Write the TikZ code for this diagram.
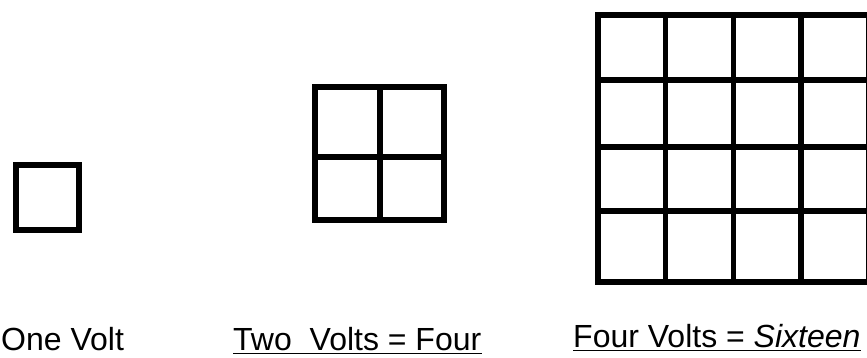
\documentclass[tikz,border=0pt]{standalone}
\usepackage{fontspec}
\setmainfont{Liberation Sans}
\tikzset{sq/.style={line width=5.5pt, line cap=rect},
  lbl/.style={inner sep=0pt, anchor=base west, font=\fontsize{32}{38}\selectfont},
  uline/.style={line width=1.8pt}}

\begin{document}
\begin{tikzpicture}[x=1pt,y=-1pt]
\useasboundingbox (0,0) rectangle (867,358);
\clip (0,0) rectangle (867,358);
% one volt
\draw[sq] (16,165) rectangle (79,230);
% two volts
\draw[sq] (315,87) rectangle (444,220) (380,87)--(380,220) (315,157)--(444,157);
% four volts
\foreach \i in {0,...,4}{
\draw[sq] (598+67.7*\i,15) -- (598+67.7*\i,282);
}
\foreach \y in {15,80,147,211,282}{
\draw[sq] (598,\y) -- (880,\y);
}
\node[lbl] (one) at (1,350) {One Volt};
\node[lbl] (two) at (233,350) {Two\ \ Volts = Four};
\node[lbl] (four) at (573,347) {Four Volts = \textit{Sixteen}};
\draw[uline] ([yshift=-3.5pt]two.base west) -- ([yshift=-3.5pt]two.base east);
\draw[uline] ([yshift=-3.5pt]four.base west) -- ([yshift=-3.5pt]four.base east);
\end{tikzpicture}
\end{document}
